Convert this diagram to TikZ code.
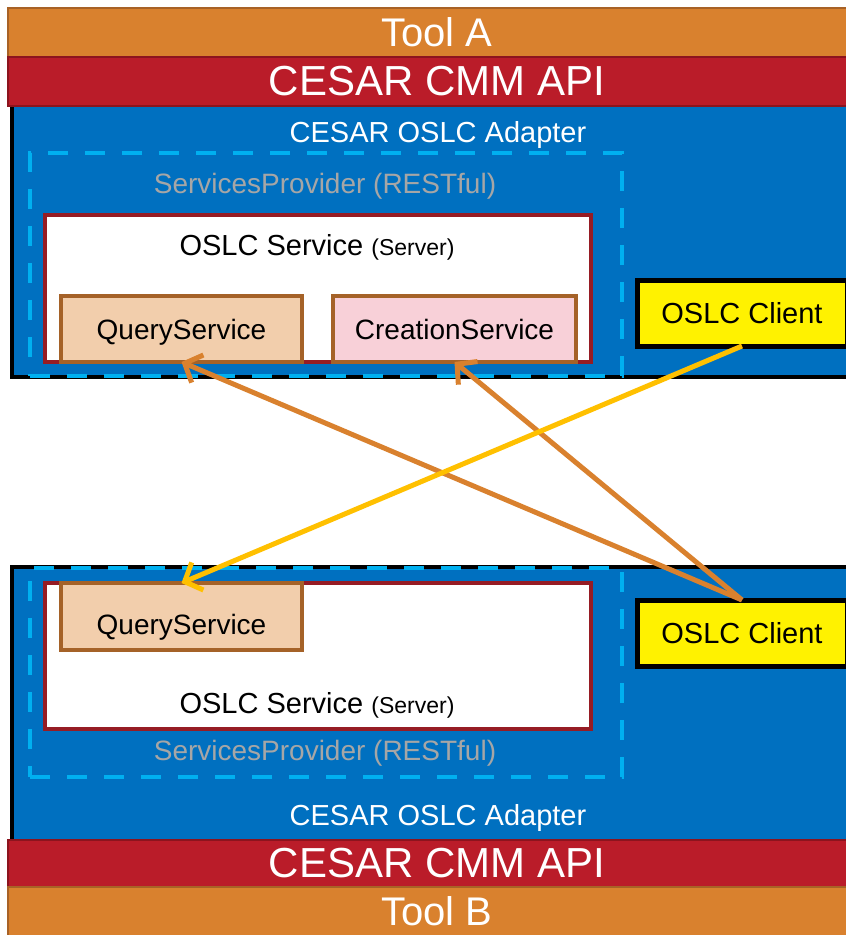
\documentclass[tikz,border=0pt]{standalone}
\usepackage{fontspec}
\setmainfont{Liberation Sans}
\usepackage{xcolor}
\usepackage{tikz}
\usetikzlibrary{positioning,calc,arrows.meta}

\definecolor{toolorange}{RGB}{217,129,46}
\definecolor{toolborder}{RGB}{168,98,38}
\definecolor{apired}{RGB}{186,28,41}
\definecolor{apiborder}{RGB}{140,20,30}
\definecolor{adapterblue}{RGB}{0,112,192}
\definecolor{providerblue}{RGB}{0,176,240}
\definecolor{providergrey}{RGB}{166,166,166}
\definecolor{servicered}{RGB}{150,28,36}
\definecolor{querypeach}{RGB}{242,206,172}
\definecolor{creationpink}{RGB}{248,208,216}
\definecolor{svcbrown}{RGB}{165,98,40}
\definecolor{arroworange}{RGB}{217,129,46}
\definecolor{arrowgold}{RGB}{255,192,0}

\newcommand{\fsize}[1]{\fontsize{#1}{#1}\selectfont}

\tikzset{
    box/.style={rectangle, inner sep=0pt, outer sep=0pt},
    toolbar/.style={box, draw=toolborder, fill=toolorange, line width=2pt, text=white, font=\fsize{40}},
    apibar/.style={box, draw=apiborder, fill=apired, line width=2pt, text=white, font=\fsize{42}},
    adapter/.style={box, draw=black, fill=adapterblue, line width=4pt},
    adaptertext/.style={text=white, text depth=0pt, font=\fsize{29}},
    provider/.style={box, draw=providerblue, line width=4pt, dash pattern=on 20pt off 17pt},
    providertext/.style={text=providergrey, text depth=0pt, font=\fsize{28}},
    service/.style={box, draw=servicered, fill=white, line width=4pt},
    servicetext/.style={text=black, text depth=0pt, font=\fsize{29}},
    querybox/.style={box, draw=svcbrown, fill=querypeach, line width=4.5pt, text depth=0pt, font=\fsize{28}},
    creationbox/.style={box, draw=svcbrown, fill=creationpink, line width=4.5pt, text depth=0pt, font=\fsize{28}},
    client/.style={box, draw=black, fill=yellow, line width=5pt, text depth=0pt, font=\fsize{29}},
    flowarrow/.style={line width=5pt, -{Straight Barb[length=14pt, width=30pt]}}
}

\begin{document}
\begin{tikzpicture}[x=1pt, y=-1pt]
    \useasboundingbox (0,0) rectangle (846,935);
    \clip (0,0) rectangle (846,935);

    % Tool A side
    \node[adapter, minimum width=852pt, minimum height=273pt] (adapterA) at (438,240.5) {};
    \node[toolbar, minimum width=858pt, minimum height=49pt] (toolA) at (437,32.5) {Tool A};
    \node[apibar, minimum width=858pt, minimum height=49pt] (apiA) at (437,81.5) {CESAR CMM API};
    \node[adaptertext] (adapterAtitle) at (438,132) {CESAR OSLC Adapter};
    \node[providertext] (providerAtitle) at (325,183) {ServicesProvider (RESTful)};
    \node[service, minimum width=546pt, minimum height=147pt] (serviceA) at (318,288.5) {};
    \node[servicetext] (serviceAtitle) at (317,245) {OSLC Service {\fsize{23}(Server)}};
    \node[querybox, minimum width=241pt, minimum height=66pt] (queryA) at (181.5,329) {QueryService};
    \node[creationbox, minimum width=243pt, minimum height=66pt] (creationA) at (454.5,329) {CreationService};
    \node[client, minimum width=210pt, minimum height=66pt] (clientA) at (742,313) {OSLC Client};
    \node[provider, minimum width=592pt, minimum height=223pt] (providerA) at (326,264.5) {};

    % Tool B side
    \node[adapter, minimum width=852pt, minimum height=275pt] (adapterB) at (438,704.5) {};
    \node[service, minimum width=546pt, minimum height=146pt] (serviceB) at (318,656) {};
    \node[querybox, minimum width=241pt, minimum height=67pt, text height=35pt] (queryB) at (181.5,616.5) {QueryService};
    \node[servicetext] (serviceBtitle) at (317,703) {OSLC Service {\fsize{23}(Server)}};
    \node[providertext] (providerBtitle) at (325,750) {ServicesProvider (RESTful)};
    \node[provider, minimum width=592pt, minimum height=209pt] (providerB) at (326,672.5) {};
    \node[adaptertext] (adapterBtitle) at (438,815) {CESAR OSLC Adapter};
    \node[client, minimum width=210pt, minimum height=66pt] (clientB) at (742,633) {OSLC Client};
    \node[apibar, minimum width=858pt, minimum height=47pt] (apiB) at (437,863.5) {CESAR CMM API};
    \node[toolbar, minimum width=858pt, minimum height=49pt] (toolB) at (437,911.5) {Tool B};

    % Requests
    \draw[flowarrow, arroworange] (clientB.north) -- (queryA.south);
    \draw[flowarrow, arroworange] (clientB.north) -- (creationA.south);
    \draw[flowarrow, arrowgold] (clientA.south) -- (queryB.north);
\end{tikzpicture}
\end{document}
